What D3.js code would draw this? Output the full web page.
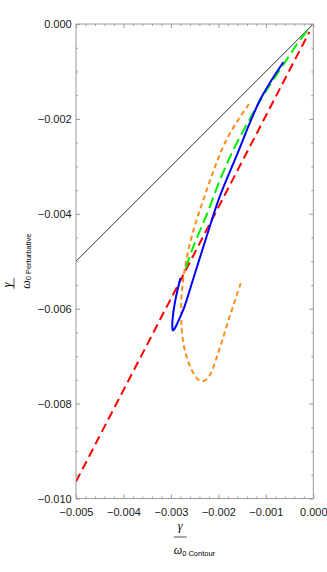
<!DOCTYPE html>
<html>
<head>
    <meta charset="utf-8">
    <script src="https://d3js.org/d3.v7.min.js"></script>
    <style>
        body { margin: 0; background: #fff; }
        .tick text { font-family: "Liberation Sans", Arial, sans-serif; font-size: 11px; fill: #1a1a1a; }
        .tick line { stroke: #9a9a9a; }
        .curve { fill: none; stroke-width: 2; }
        .serif { font-family: "Liberation Serif", "Times New Roman", serif; font-size: 12px; }
        .sub { font-family: "Liberation Sans", Arial, sans-serif; font-size: 7.5px; font-style: normal; }
    </style>
</head>
<body>
    <div id="chart"></div>
    <script>
        // Axis ticks
        const xMajor = [-0.005, -0.004, -0.003, -0.002, -0.001, 0];
        const yMajor = [-0.010, -0.008, -0.006, -0.004, -0.002, 0];

        // Reference line y = x
        const diagX = [-0.005, 0];
        const diagY = [-0.005, 0];

        // Red dashed line
        const redX = [-0.005, -0.000084];
        const redY = [-0.009644, -0.000169];

        // Green long dashed curve
        const greenX = [-0.000133, -0.000350, -0.000491, -0.001087, -0.001403, -0.001686, -0.001966, -0.002240, -0.002528, -0.002703];
        const greenY = [-0.000147, -0.000436, -0.000647, -0.001559, -0.002122, -0.002655, -0.003287, -0.004003, -0.004692, -0.005183];

        // Blue solid curve (with loop at bottom)
        const blueX = [-0.000628, -0.000891, -0.001123, -0.001355, -0.001566, -0.001787, -0.001997, -0.002271, -0.002524, -0.002724, -0.002851, -0.002925, -0.002960, -0.002971, -0.002956, -0.002914, -0.002861, -0.002798];
        const blueY = [-0.000801, -0.001201, -0.001601, -0.002128, -0.002655, -0.003182, -0.003708, -0.004551, -0.005352, -0.005984, -0.006279, -0.006426, -0.006458, -0.006363, -0.006131, -0.005858, -0.005605, -0.005352];

        // Orange short dashed curve
        const orangeX = [-0.001355, -0.001544, -0.001755, -0.001930, -0.002134, -0.002318, -0.002472, -0.002598, -0.002693, -0.002752, -0.002783, -0.002781, -0.002754, -0.002693, -0.002592, -0.002482, -0.002366, -0.002250, -0.002145, -0.002040, -0.001934, -0.001818, -0.001681, -0.001530];
        const orangeY = [-0.001686, -0.001960, -0.002303, -0.002655, -0.003182, -0.003708, -0.004172, -0.004621, -0.005078, -0.005464, -0.005921, -0.006279, -0.006616, -0.006932, -0.007227, -0.007427, -0.007528, -0.007491, -0.007333, -0.007038, -0.006721, -0.006342, -0.005921, -0.005464];

        const W = 327, H = 572;
        const margin = {top: 24, right: 13.7, bottom: 73.5, left: 76};
        const width = W - margin.left - margin.right;
        const height = H - margin.top - margin.bottom;

        const svg = d3.select("#chart").append("svg")
            .attr("width", W)
            .attr("height", H);

        const g = svg.append("g")
            .attr("transform", `translate(${margin.left},${margin.top})`);

        const x = d3.scaleLinear().domain([-0.005, 0]).range([0, width]);
        const y = d3.scaleLinear().domain([-0.010, 0]).range([height, 0]);

        const xMinor = d3.range(-0.005, 0.00001, 0.0002).filter(v => !xMajor.some(m => Math.abs(m - v) < 1e-9));
        const yMinor = d3.range(-0.010, 0.00001, 0.0005).filter(v => !yMajor.some(m => Math.abs(m - v) < 1e-9));
        const fmt = d3.format(".3f");

        // clip
        svg.append("defs").append("clipPath").attr("id", "clip")
            .append("rect").attr("width", width).attr("height", height);

        const plot = g.append("g").attr("clip-path", "url(#clip)");

        const pts = (xs, ys) => xs.map((v, i) => [v, ys[i]]);
        const line = d3.line().x(d => x(d[0])).y(d => y(d[1]));
        const smooth = d3.line().x(d => x(d[0])).y(d => y(d[1])).curve(d3.curveCatmullRom.alpha(0.5));

        plot.append("path")
            .attr("d", line(pts(diagX, diagY)))
            .attr("fill", "none")
            .attr("stroke", "#000")
            .attr("stroke-width", 0.8);

        plot.append("path")
            .attr("class", "curve")
            .attr("d", smooth(pts(orangeX, orangeY)))
            .attr("stroke", "#ff8c1a")
            .attr("stroke-dasharray", "5,3.5");

        plot.append("path")
            .attr("class", "curve")
            .attr("d", line(pts(redX, redY)))
            .attr("stroke", "#ff0000")
            .attr("stroke-dasharray", "9,5");

        plot.append("path")
            .attr("class", "curve")
            .attr("d", smooth(pts(greenX, greenY)))
            .attr("stroke", "#00ee00")
            .attr("stroke-dasharray", "11,5");

        plot.append("path")
            .attr("class", "curve")
            .attr("d", smooth(pts(blueX, blueY)))
            .attr("stroke", "#0000ff");

        // ticks (inward, mirrored on all sides)
        const addAxis = (axis, transform) => {
            const a = g.append("g").attr("transform", transform).call(axis);
            a.select(".domain").remove();
            return a;
        };
        addAxis(d3.axisBottom(x).tickValues(xMajor).tickSize(-4).tickPadding(9.5).tickFormat(fmt), `translate(0,${height})`);
        addAxis(d3.axisBottom(x).tickValues(xMinor).tickSize(-2).tickFormat(""), `translate(0,${height})`);
        addAxis(d3.axisTop(x).tickValues(xMajor).tickSize(-4).tickFormat(""), "translate(0,0)");
        addAxis(d3.axisTop(x).tickValues(xMinor).tickSize(-2).tickFormat(""), "translate(0,0)");
        addAxis(d3.axisLeft(y).tickValues(yMajor).tickSize(-4).tickPadding(4.3).tickFormat(fmt), "translate(0,0)");
        addAxis(d3.axisLeft(y).tickValues(yMinor).tickSize(-2).tickFormat(""), "translate(0,0)");
        addAxis(d3.axisRight(y).tickValues(yMajor).tickSize(-4).tickFormat(""), `translate(${width},0)`);
        addAxis(d3.axisRight(y).tickValues(yMinor).tickSize(-2).tickFormat(""), `translate(${width},0)`);

        // frame
        g.append("rect")
            .attr("width", width)
            .attr("height", height)
            .attr("fill", "none")
            .attr("stroke", "#9a9a9a")
            .attr("stroke-width", 1);

        // x label: gamma over omega_0 Contour
        const xl = svg.append("g");
        xl.append("line")
            .attr("x1", 0).attr("x2", 13).attr("y1", 0).attr("y2", 0)
            .attr("stroke", "#666").attr("stroke-width", 1.1);
        xl.append("text").attr("class", "serif")
            .attr("x", 6.5).attr("y", -7.5)
            .attr("text-anchor", "middle")
            .style("font-style", "italic")
            .text("γ");
        const xden = xl.append("text").attr("class", "serif").attr("x", 0).attr("y", 17);
        xden.append("tspan").style("font-style", "italic").text("ω");
        xden.append("tspan").attr("class", "sub").attr("dy", 1.5).text("0 Contour");
        const xw = xl.node().getBBox().width;
        xl.attr("transform", `translate(${margin.left + width / 2 - xw / 2},537)`);

        // y label: rotated fraction
        const yl = svg.append("g");
        const yden = yl.append("text").attr("class", "serif").attr("x", 0).attr("y", 0);
        yden.append("tspan").style("font-style", "italic").text("ω");
        yden.append("tspan").attr("class", "sub").attr("dy", 1.5).text("0 Perturbative");
        const yw = yden.node().getBBox().width;
        const yBottom = margin.top + height / 2 + yw / 2;
        yl.attr("transform", `translate(29.5,${yBottom}) rotate(-90)`);

        svg.append("line")
            .attr("x1", 14).attr("x2", 14)
            .attr("y1", yBottom - 11).attr("y2", yBottom)
            .attr("stroke", "#666").attr("stroke-width", 1.1);

        svg.append("text").attr("class", "serif")
            .attr("transform", `translate(11,${yBottom - 4}) rotate(-90)`)
            .attr("text-anchor", "middle")
            .style("font-style", "italic")
            .text("γ");
    </script>
</body>
</html>
